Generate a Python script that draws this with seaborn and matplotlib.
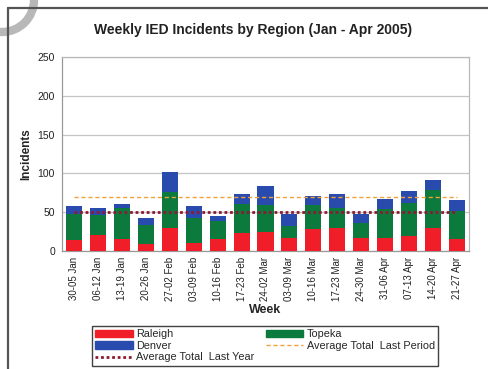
import numpy as np
import pandas as pd
import matplotlib
matplotlib.use("Agg")
import matplotlib.pyplot as plt
from matplotlib.lines import Line2D
from matplotlib.patches import Patch, Ellipse
import seaborn as sns

weeks = ["30-05 Jan", "06-12 Jan", "13-19 Jan", "20-26 Jan", "27-02 Feb",
         "03-09 Feb", "10-16 Feb", "17-23 Feb", "24-02 Mar", "03-09 Mar",
         "10-16 Mar", "17-23 Mar", "24-30 Mar", "31-06 Apr", "07-13 Apr",
         "14-20 Apr", "21-27 Apr"]
raleigh = [14, 21, 15, 9, 29, 10, 15, 23, 25, 17, 28, 30, 17, 17, 19, 30, 15]
topeka = [34, 26, 41, 24, 47, 33, 24, 37, 34, 15, 31, 25, 19, 37, 43, 49, 37]
denver = [10, 9, 5, 9, 26, 15, 6, 14, 25, 16, 12, 18, 12, 13, 15, 12, 14]
avg_last_period = 70
avg_last_year = 50
yticks = [0, 50, 100, 150, 200, 250]

c_raleigh = "#F01E28"
c_topeka = "#0B7A3C"
c_denver = "#2A4BAE"
c_period = "#F0A23A"
c_year = "#8E1A32"

df = pd.DataFrame({"week": weeks, "Raleigh": raleigh,
                   "Topeka": topeka, "Denver": denver})
df["rt"] = df["Raleigh"] + df["Topeka"]
df["total"] = df["rt"] + df["Denver"]

sns.set_style("white")
plt.rcParams["font.family"] = ["Liberation Sans", "DejaVu Sans"]

W, H = 488, 369
fig = plt.figure(figsize=(W / 100, H / 100), dpi=100)
ax = fig.add_axes([62 / W, 1 - 251 / H, (469 - 62) / W, (251 - 57) / H])

# stacked bars: draw cumulative heights back to front
bw = 0.67
sns.barplot(data=df, x="week", y="total", color=c_denver, saturation=1,
            width=bw, errorbar=None, ax=ax, zorder=2, linewidth=0)
sns.barplot(data=df, x="week", y="rt", color=c_topeka, saturation=1,
            width=bw, errorbar=None, ax=ax, zorder=3, linewidth=0)
sns.barplot(data=df, x="week", y="Raleigh", color=c_raleigh, saturation=1,
            width=bw, errorbar=None, ax=ax, zorder=4, linewidth=0)

pos = np.arange(len(weeks))
ax.plot(pos, np.full(len(weeks), avg_last_period), color=c_period,
        lw=1.0, ls=(0, (3, 2)), zorder=5)
ax.plot(pos, np.full(len(weeks), avg_last_year), color=c_year,
        lw=2.0, ls=(0, (1, 1)), zorder=5)

ax.set_xlim(-0.5, len(weeks) - 0.5)
ax.set_ylim(0, 250)
ax.set_yticks(yticks)
ax.set_yticklabels([str(v) for v in yticks], fontsize=7.5, color="#222222")
ax.yaxis.grid(True, color="#c4c4c4", lw=0.9, zorder=0)
ax.set_axisbelow(True)
ax.set_xticks(pos)
ax.set_xticklabels(weeks, rotation=90, fontsize=7, color="#222222")
ax.set_xticks(np.arange(-0.5, len(weeks), 1), minor=True)
ax.tick_params(axis="x", which="major", length=0, pad=4)
ax.tick_params(axis="x", which="minor", length=3, color="#999999")
ax.tick_params(axis="y", length=3, color="#999999", pad=2)
for s in ax.spines.values():
    s.set_color("#b8b8b8")
    s.set_linewidth(0.9)
ax.spines["left"].set_color("#999999")
ax.spines["bottom"].set_color("#999999")

ax.set_xlabel("Week", fontsize=9, fontweight="bold", labelpad=2)
ax.set_ylabel("Incidents", fontsize=8.5, fontweight="bold", labelpad=4)

fig.text(253 / W, 1 - 30 / H, "Weekly IED Incidents by Region (Jan - Apr 2005)",
         ha="center", va="center", fontsize=10, fontweight="bold", color="#222222")

handles = [Patch(color=c_raleigh), Patch(color=c_denver),
           Line2D([], [], color=c_year, lw=2.0, ls=(0, (1, 1))),
           Patch(color=c_topeka),
           Line2D([], [], color=c_period, lw=1.0, ls=(0, (3, 2)))]
labels = ["Raleigh", "Denver", "Average Total  Last Year",
          "Topeka", "Average Total  Last Period"]
leg = fig.legend(handles, labels, ncol=2, loc="upper left",
                 bbox_to_anchor=(92 / W, 1 - 326 / H),
                 fontsize=7.8, frameon=True, fancybox=False,
                 handlelength=3.5, handleheight=0.7, handletextpad=0.3,
                 labelspacing=0.15, columnspacing=1.0, borderpad=0.3,
                 borderaxespad=0)
leg.get_frame().set_edgecolor("#111111")
leg.get_frame().set_linewidth(1.0)

# page frame and ring mark in the corner
ring_r = 32
fig.add_artist(Ellipse((2 / W, 1), 2 * ring_r / W, 2 * ring_r / H,
                       transform=fig.transFigure, fill=False,
                       ec="#b8b8b8", lw=6))
fig.add_artist(Line2D([8 / W, 8 / W], [0, 1 - 8 / H], color="#555555",
                      lw=1.6, transform=fig.transFigure))
fig.add_artist(Line2D([8 / W, 1], [1 - 8 / H, 1 - 8 / H], color="#555555",
                      lw=1.6, transform=fig.transFigure))

fig.savefig("out.png", dpi=100)
